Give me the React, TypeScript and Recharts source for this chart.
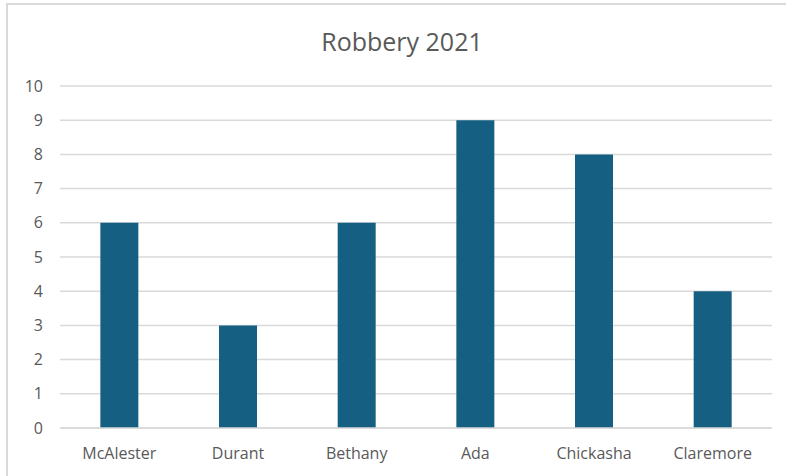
import { Bar, BarChart, CartesianGrid, XAxis, YAxis } from "recharts";

const cities = ["McAlester", "Durant", "Bethany", "Ada", "Chickasha", "Claremore"];
const robberies = [6, 3, 6, 9, 8, 4];
const yTicks = [0, 1, 2, 3, 4, 5, 6, 7, 8, 9, 10];

const data = cities.map((name, i) => ({ name, robbery: robberies[i] }));

const FONT = "'Open Sans', sans-serif";
const GRAY = "#595959";

export default function App() {
  return (
    <div
      style={{
        position: "absolute",
        left: 0,
        top: 0,
        width: 786,
        height: 476,
        overflow: "hidden",
        background: "#fff",
        fontFamily: FONT,
      }}
    >
      <div
        style={{
          position: "absolute",
          left: 6,
          top: 3,
          width: 820,
          height: 520,
          border: "2px solid #d9d9d9",
        }}
      />
      <div
        style={{
          position: "absolute",
          left: 0,
          width: 804,
          top: 25,
          textAlign: "center",
          fontSize: 25,
          color: GRAY,
          lineHeight: "32px",
        }}
      >
        Robbery 2021
      </div>
      <div style={{ position: "absolute", left: 0, top: 0 }}>
        <BarChart
          width={786}
          height={476}
          data={data}
          margin={{ top: 86, right: 14, left: 0, bottom: 0 }}
          barCategoryGap="34%"
        >
          <CartesianGrid stroke="#d9d9d9" strokeWidth={1.5} vertical={false} />
          <XAxis
            dataKey="name"
            height={48}
            tickLine={false}
            tickSize={0}
            tickMargin={20}
            axisLine={{ stroke: "#d9d9d9", strokeWidth: 1.5 }}
            tick={{ fontSize: 16, fill: GRAY, fontFamily: FONT }}
            interval={0}
          />
          <YAxis
            width={60}
            domain={[0, 10]}
            ticks={yTicks}
            interval={0}
            tickLine={false}
            axisLine={false}
            tickSize={0}
            tickMargin={17}
            tick={{ fontSize: 16, fill: GRAY, fontFamily: FONT }}
          />
          <Bar dataKey="robbery" fill="#156082" isAnimationActive={false} />
        </BarChart>
      </div>
    </div>
  );
}
